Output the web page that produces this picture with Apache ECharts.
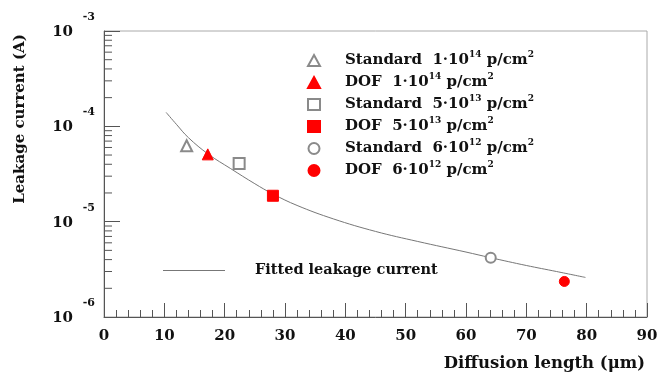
<!DOCTYPE html>
<html>
<head>
<meta charset="utf-8">
<script src="https://cdn.jsdelivr.net/npm/echarts@6/dist/echarts.min.js"></script>
<style>html,body{margin:0;padding:0;background:#fff}#c{width:659px;height:377px}</style>
</head>
<body>
<div id="c"></div>
<script>
// ---- data ----
const seriesNames = ['Standard 1e14', 'DOF 1e14', 'Standard 5e13', 'DOF 5e13', 'Standard 6e12', 'DOF 6e12'];
const legendPrefix = ['Standard  1·10', 'DOF  1·10', 'Standard  5·10', 'DOF  5·10', 'Standard  6·10', 'DOF  6·10'];
const legendExp = ['14', '14', '13', '13', '12', '12'];
const pointX = [13.7, 17.2, 22.4, 28.0, 64.1, 76.3];
const pointY = [6.25e-5, 5.08e-5, 4.08e-5, 1.87e-5, 4.18e-6, 2.36e-6];
const pointSymbols = ['emptyTriangle', 'triangle', 'emptyRect', 'rect', 'emptyCircle', 'circle'];
const pointColors = ['#8a8a8a', '#ff0000', '#8a8a8a', '#ff0000', '#8a8a8a', '#ff0000'];
const fitName = 'Fitted leakage current';
const fitX = [10.3, 12, 14, 17.3, 21, 25, 28, 32, 38, 45, 52, 60, 64, 70, 75, 79.8];
const fitY = [1.40e-4, 1.05e-4, 7.6e-5, 5.1e-5, 3.6e-5, 2.5e-5, 1.95e-5, 1.48e-5, 1.07e-5, 7.9e-6, 6.2e-6, 4.8e-6, 4.2e-6, 3.47e-6, 3.0e-6, 2.6e-6];
const yMinorTicks = [2e-6, 3e-6, 4e-6, 5e-6, 6e-6, 7e-6, 8e-6, 9e-6,
                     2e-5, 3e-5, 4e-5, 5e-5, 6e-5, 7e-5, 8e-5, 9e-5,
                     2e-4, 3e-4, 4e-4, 5e-4, 6e-4, 7e-4, 8e-4, 9e-4];
const xAxisTitle = 'Diffusion length (μm)';
const yAxisTitle = 'Leakage current (A)';

const FONT = 'DejaVu Serif';
const chart = echarts.init(document.getElementById('c'), null, {renderer: 'canvas'});

const scatterSeries = seriesNames.map((n, i) => ({
  name: n,
  type: 'scatter',
  symbol: pointSymbols[i],
  symbolSize: /ircle/.test(pointSymbols[i]) ? 10 : 11,
  itemStyle: {color: pointColors[i], borderColor: pointColors[i], borderWidth: 1, opacity: 1},
  data: [[pointX[i], pointY[i]]],
  z: 5
}));

const option = {
  backgroundColor: '#fff',
  animation: false,
  grid: {left: 104, right: 12, top: 31, bottom: 60, show: true, borderColor: '#aaa', borderWidth: 1, outerBoundsMode: 'none'},
  xAxis: [{
    type: 'value', min: 0, max: 90, interval: 10,
    axisLine: {lineStyle: {color: '#555', width: 1}},
    axisTick: {inside: true, length: 14, lineStyle: {color: '#555'}},
    splitLine: {show: false},
    axisLabel: {margin: 12, color: '#111', fontFamily: FONT, fontWeight: 'bold', fontSize: 15},
    name: xAxisTitle, nameLocation: 'end', nameGap: -2,
    nameTextStyle: {align: 'right', verticalAlign: 'top', padding: [38, 0, 0, 0], color: '#111', fontFamily: FONT, fontWeight: 'bold', fontSize: 16.5}
  }, {
    type: 'value', min: 0, max: 90, interval: 2, position: 'bottom',
    axisLine: {show: false},
    axisTick: {inside: true, length: 7, lineStyle: {color: '#555'}},
    axisLabel: {show: false},
    splitLine: {show: false}
  }],
  yAxis: {
    type: 'log', logBase: 10, min: 1e-6, max: 1e-3,
    axisLine: {lineStyle: {color: '#555', width: 1}},
    axisTick: {inside: true, length: 16, lineStyle: {color: '#555'}},
    minorTick: {show: false},
    splitLine: {show: false},
    axisLabel: {
      margin: 9,
      formatter: v => '{s|' + Math.round(Math.log10(v)) + '}\n{b|10}{g| }\n{e| }',
      rich: {
        s: {fontFamily: FONT, fontWeight: 'bold', fontSize: 11, lineHeight: 14, color: '#111'},
        b: {fontFamily: FONT, fontWeight: 'bold', fontSize: 15, lineHeight: 16, color: '#111'},
        g: {fontSize: 2, lineHeight: 16, width: 22},
        e: {fontSize: 2, lineHeight: 12}
      }
    },
    name: yAxisTitle, nameLocation: 'middle', nameRotate: 90, nameGap: 76,
    nameTextStyle: {padding: [0, 0, 0, 110], color: '#111', fontFamily: FONT, fontWeight: 'bold', fontSize: 15}
  },
  legend: [{
    data: seriesNames,
    orient: 'vertical', left: 302, top: 45,
    itemWidth: 12, itemHeight: 11, itemGap: 1,
    formatter: name => {
      const i = seriesNames.indexOf(name);
      return '{t|' + legendPrefix[i] + '}{s|' + legendExp[i] + '}{t| p/cm}{s|2}';
    },
    textStyle: {
      padding: [0, 0, 0, 20],
      rich: {
        t: {fontFamily: FONT, fontWeight: 'bold', fontSize: 15, lineHeight: 20, color: '#111'},
        s: {fontFamily: FONT, fontWeight: 'bold', fontSize: 9, lineHeight: 10, color: '#111', padding: [0, 0, 12, 0]}
      }
    }
  }, {
    data: [{name: fitName, icon: 'rect'}],
    left: 158, top: 258, itemWidth: 62, itemHeight: 1,
    textStyle: {padding: [0, 0, 0, 25], fontFamily: FONT, fontWeight: 'bold', fontSize: 14.5, color: '#111'}
  }],
  series: [
    {
      name: fitName, type: 'line', smooth: 0.4, symbol: 'none',
      lineStyle: {color: '#777', width: 1}, itemStyle: {color: '#777'},
      data: fitX.map((x, i) => [x, fitY[i]]), z: 3
    },
    ...scatterSeries,
    {
      name: 'yMinor', type: 'custom', silent: true,
      data: yMinorTicks.map(v => [0, v]),
      renderItem: (params, api) => {
        const p = api.coord([0, api.value(1)]);
        return {type: 'line', shape: {x1: p[0], y1: p[1], x2: p[0] + 8, y2: p[1]}, style: {stroke: '#555', lineWidth: 1}};
      },
      z: 2
    }
  ]
};
chart.setOption(option);
</script>
</body>
</html>
